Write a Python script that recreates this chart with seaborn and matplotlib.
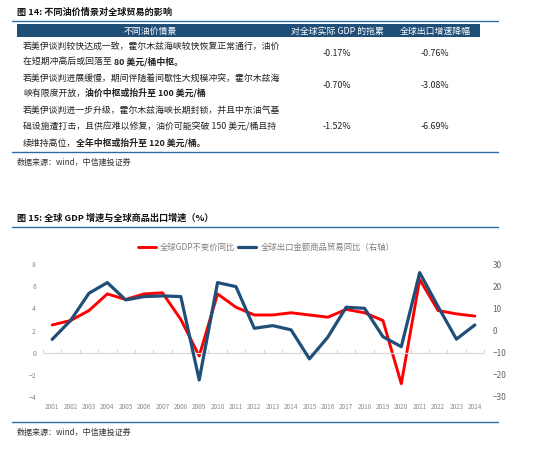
import seaborn as sns
import matplotlib.pyplot as plt
from matplotlib.lines import Line2D
from matplotlib.patches import Rectangle
import pandas as pd

# data
years = list(range(2001, 2025))
gdp = [2.5, 2.9, 3.8, 5.3, 4.8, 5.3, 5.4, 3.0, -0.3, 5.3, 4.1, 3.4, 3.4, 3.6,
       3.4, 3.2, 3.9, 3.6, 2.9, -2.8, 6.6, 3.8, 3.5, 3.3]
exports = [-4.0, 4.5, 16.8, 21.6, 13.8, 15.3, 15.6, 15.3, -22.3, 21.6, 19.8, 1.0,
           2.2, 0.3, -12.8, -3.0, 10.5, 10.0, -2.8, -7.3, 26.1, 10.8, -3.9, 2.5]

headers = ['不同油价情景', '对全球实际 GDP 的拖累', '全球出口增速降幅']
scenario_1 = [[('若美伊谈判较快达成一致，霍尔木兹海峡较快恢复正常通行，油价', 'normal')],
              [('在短期冲高后或回落至 ', 'normal'), ('80 美元/桶中枢。', 'bold')]]
scenario_2 = [[('若美伊谈判进展缓慢，期间伴随着间歇性大规模冲突，霍尔木兹海', 'normal')],
              [('峡有限度开放，', 'normal'), ('油价中枢或抬升至 100 美元/桶', 'bold')]]
scenario_3 = [[('若美伊谈判进一步升级，霍尔木兹海峡长期封锁，并且中东油气基', 'normal')],
              [('础设施遭打击，且供应难以修复，油价可能突破 150 美元/桶且持', 'normal')],
              [('续维持高位，', 'normal'), ('全年中枢或抬升至 120 美元/桶。', 'bold')]]
gdp_drag = ['-0.17%', '-0.70%', '-1.52%']
export_drop = ['-0.76%', '-3.08%', '-6.69%']

sns.set_theme(style='white')
plt.rcParams['font.family'] = ['Noto Sans CJK SC', 'DejaVu Sans']

W, H = 550, 459
fig = plt.figure(figsize=(5.5, 4.59), dpi=100)
renderer = fig.canvas.get_renderer()
blue = '#1f4e79'
linec = '#2e6da4'


def fx(px):
    return px / W


def fy(py):
    return 1 - py / H


def hline(py, x0=12, x1=498, c=linec, lw=1.0):
    fig.add_artist(Line2D([fx(x0), fx(x1)], [fy(py), fy(py)], color=c, lw=lw))


def mixed(px, py, parts, size=6.4):
    x = fx(px)
    for txt, w in parts:
        t = fig.text(x, fy(py), txt, fontsize=size, fontweight=w,
                     va='center', ha='left', color='#222222')
        x += t.get_window_extent(renderer).width / W


# table (figure 14)
fig.text(fx(17), fy(12), '图 14: 不同油价情景对全球贸易的影响', fontsize=6.6,
         fontweight='bold', va='center', color='#111111')
hline(21)
fig.add_artist(Rectangle((fx(17), fy(37)), fx(480) - fx(17), fy(24) - fy(37),
                         color=blue, lw=0))
for txt, px in zip(headers, [150, 337, 435]):
    fig.text(fx(px), fy(31), txt, fontsize=6.4, color='white',
             ha='center', va='center')

row_lines = [[46, 61.5], [78, 93], [110, 126.5, 143]]
for scen, ys, g, e in zip([scenario_1, scenario_2, scenario_3], row_lines,
                          gdp_drag, export_drop):
    for parts, py in zip(scen, ys):
        mixed(23, py, parts)
    mid = sum(ys) / len(ys)
    fig.text(fx(337), fy(mid), g, fontsize=6.4, ha='center', va='center', color='#222222')
    fig.text(fx(435), fy(mid), e, fontsize=6.4, ha='center', va='center', color='#222222')
hline(152)
fig.text(fx(17), fy(162), '数据来源：wind，中信建投证券', fontsize=5.8,
         style='italic', va='center', color='#333333')

# chart (figure 15)
fig.text(fx(17), fy(218), '图 15: 全球 GDP 增速与全球商品出口增速（%）', fontsize=6.6,
         fontweight='bold', va='center', color='#111111')
hline(227)
hline(422)
fig.text(fx(17), fy(432), '数据来源：wind，中信建投证券', fontsize=5.8,
         style='italic', va='center', color='#333333')

df = pd.DataFrame({'year': years, 'gdp': gdp, 'exports': exports})

ax = fig.add_axes([fx(43), fy(397), fx(484) - fx(43), fy(264) - fy(397)])
ax.patch.set_alpha(0)
sns.lineplot(data=df, x='year', y='gdp', ax=ax, color='#ff0000', lw=2.1,
             label='全球GDP不变价同比', legend=False)
ax.set_ylim(-4, 8)
ax.set_yticks(range(-4, 9, 2))
ax.set_xlim(2000.5, 2024.5)
ax.set_xticks(years)
ax.set_xticks([y - 0.5 for y in years] + [2024.5], minor=True)
ax.set_xlabel('')
ax.set_ylabel('')
for s in ['left', 'right', 'bottom']:
    ax.spines[s].set_visible(False)
ax.spines['top'].set_position(('data', 0))
ax.spines['top'].set_color('#d9d9d9')
ax.spines['top'].set_linewidth(0.9)
ax.tick_params(axis='x', which='major', bottom=True, top=False, length=0,
               labelsize=4.6, labelcolor='#8c8c8c', pad=4)
ax.tick_params(axis='x', which='minor', top=True, bottom=False, direction='out',
               length=3, color='#d9d9d9', width=0.8)
ax.tick_params(axis='y', length=0, labelsize=5, labelcolor='#8c8c8c', pad=5)

ax2 = ax.twinx()
sns.lineplot(data=df, x='year', y='exports', ax=ax2, color=blue, lw=2.3,
             label='全球出口金额商品贸易同比（右轴）', legend=False)
ax2.set_ylim(-30, 30)
ax2.set_yticks(range(-30, 31, 10))
ax2.set_ylabel('')
for s in ax2.spines.values():
    s.set_visible(False)
ax2.tick_params(axis='y', length=0, labelsize=6, labelcolor='#666666', pad=6)

h1, l1 = ax.get_legend_handles_labels()
h2, l2 = ax2.get_legend_handles_labels()
fig.legend(h1 + h2, l1 + l2, loc='center', bbox_to_anchor=(fx(266), fy(247)),
           ncol=2, frameon=False, fontsize=6, labelcolor='#7f7f7f',
           handlelength=2.2, handletextpad=0.5, columnspacing=0.3)

fig.savefig('out.png', dpi=100)
